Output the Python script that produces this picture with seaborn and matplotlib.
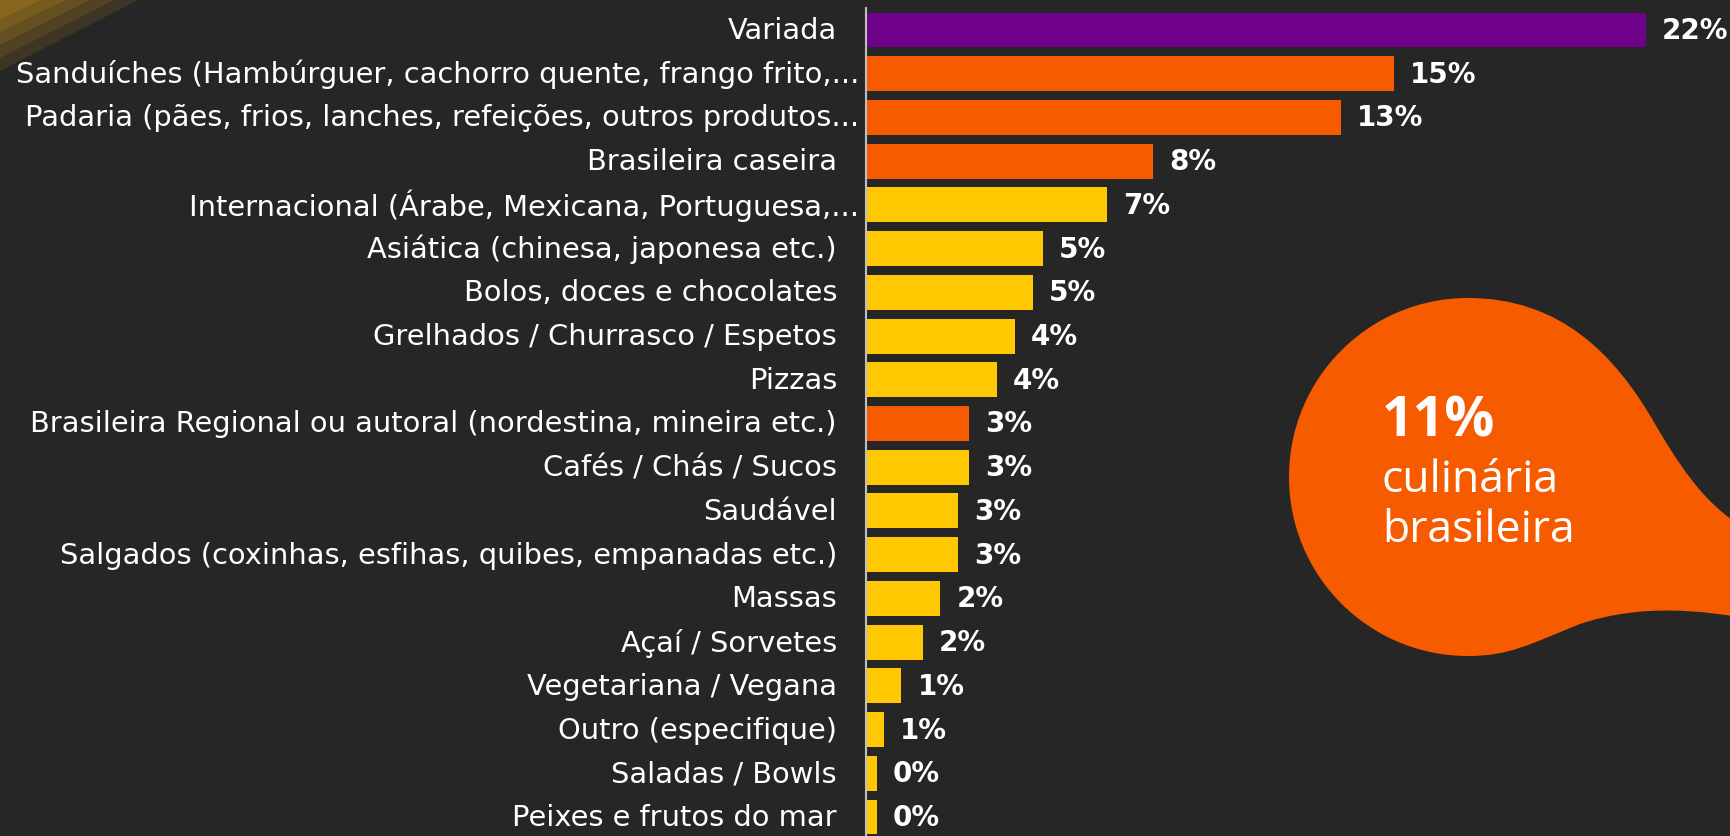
import numpy as np
import pandas as pd
import matplotlib.pyplot as plt
import matplotlib.transforms as mtransforms
from matplotlib.path import Path
from matplotlib.patches import PathPatch, Polygon
import seaborn as sns

# data
categorias = [
    "Variada",
    "Sanduíches (Hambúrguer, cachorro quente, frango frito,...",
    "Padaria (pães, frios, lanches, refeições, outros produtos...",
    "Brasileira caseira",
    "Internacional (Árabe, Mexicana, Portuguesa,...",
    "Asiática (chinesa, japonesa etc.)",
    "Bolos, doces e chocolates",
    "Grelhados / Churrasco / Espetos",
    "Pizzas",
    "Brasileira Regional ou autoral (nordestina, mineira etc.)",
    "Cafés / Chás / Sucos",
    "Saudável",
    "Salgados (coxinhas, esfihas, quibes, empanadas etc.)",
    "Massas",
    "Açaí / Sorvetes",
    "Vegetariana / Vegana",
    "Outro (especifique)",
    "Saladas / Bowls",
    "Peixes e frutos do mar",
]
valores = [22.0, 14.9, 13.4, 8.1, 6.8, 5.0, 4.7, 4.2, 3.7, 2.9, 2.9, 2.6, 2.6,
           2.1, 1.6, 1.0, 0.5, 0.3, 0.3]
rotulos = ["22%", "15%", "13%", "8%", "7%", "5%", "5%", "4%", "4%", "3%", "3%",
           "3%", "3%", "2%", "2%", "1%", "1%", "0%", "0%"]
grupo = ["variada", "br", "br", "br", "outro", "outro", "outro", "outro", "outro",
         "br", "outro", "outro", "outro", "outro", "outro", "outro", "outro",
         "outro", "outro"]

cores = {"variada": "#6E008A", "br": "#F75B00", "outro": "#FFC800"}
fundo = "#262626"

df = pd.DataFrame({"cat": categorias, "val": valores, "grupo": grupo})

W, H = 1731, 837
fig = plt.figure(figsize=(W / 100, H / 100), dpi=100, facecolor=fundo)

# decoração do canto superior esquerdo
for k, a in enumerate([0.15, 0.15, 0.17, 0.19, 0.22]):
    w = 140 - k * 24
    h = 72 - k * 13
    fig.patches.append(Polygon([(0, 1), (w / W, 1), (0, 1 - h / H)], closed=True,
                               transform=fig.transFigure, facecolor="#C8901A",
                               alpha=a, edgecolor="none", zorder=0))

# blob laranja
def p(x, y):
    return (x / W, 1 - y / H)

verts = [p(1289, 478),
         p(1289, 379), p(1369, 299), p(1468, 299),
         p(1560, 299), p(1615, 355), p(1655, 425),
         p(1690, 485), p(1715, 515), p(1760, 538),
         p(1760, 622),
         p(1700, 610), p(1640, 605), p(1580, 625),
         p(1530, 645), p(1510, 657), p(1468, 657),
         p(1369, 657), p(1289, 577), p(1289, 478),
         p(1289, 478)]
codes = ([Path.MOVETO] + [Path.CURVE4] * 9 + [Path.LINETO] + [Path.CURVE4] * 9
         + [Path.CLOSEPOLY])
fig.patches.append(PathPatch(Path(verts, codes), transform=fig.transFigure,
                             facecolor="#F75B00", edgecolor="none", zorder=1))

fig.text(1382 / W, 1 - 437 / H, "11%", color="white", fontsize=40,
         fontweight="bold", family="Open Sans", ha="left", va="baseline")
fig.text(1382 / W, 1 - 492 / H, "culinária", color="white", fontsize=32,
         family="Open Sans", ha="left", va="baseline")
fig.text(1382 / W, 1 - 542 / H, "brasileira", color="white", fontsize=32,
         family="Open Sans", ha="left", va="baseline")

# eixo das barras
step = (818 - 31) / 18
top = 31 - step / 2
bot = 818 + step / 2
ax = fig.add_axes([866 / W, 1 - bot / H, (W - 866) / W, (bot - top) / H])
ax.set_facecolor("none")

sns.barplot(data=df, x="val", y="cat", hue="grupo", palette=cores, dodge=False,
            width=0.8, legend=False, ax=ax, orient="h", saturation=1)

ax.set_xlim(0, (W - 866) / 35.45)
ax.set_ylim(len(categorias) - 0.5, -0.5)
ax.set_xlabel("")
ax.set_ylabel("")
ax.set_xticks([])
ax.set_yticks([])
for s in ["top", "right", "bottom"]:
    ax.spines[s].set_visible(False)
ax.spines["left"].set_color("#BFBFBF")
ax.spines["left"].set_linewidth(1.5)

for i, (c, v, r) in enumerate(zip(categorias, valores, rotulos)):
    off = 7 if c.endswith("...") else 29
    t = mtransforms.offset_copy(ax.transData, fig=fig, x=-off, y=0, units="dots")
    ax.text(0, i, c, transform=t, ha="right", va="center", color="white",
            fontsize=20.8, family="DejaVu Sans")
    t2 = mtransforms.offset_copy(ax.transData, fig=fig, x=16, y=0, units="dots")
    ax.text(v, i, r, transform=t2, ha="left", va="center", color="white",
            fontsize=20, fontweight="bold", family="DejaVu Sans")

fig.savefig("out.png", dpi=100, facecolor=fundo)
